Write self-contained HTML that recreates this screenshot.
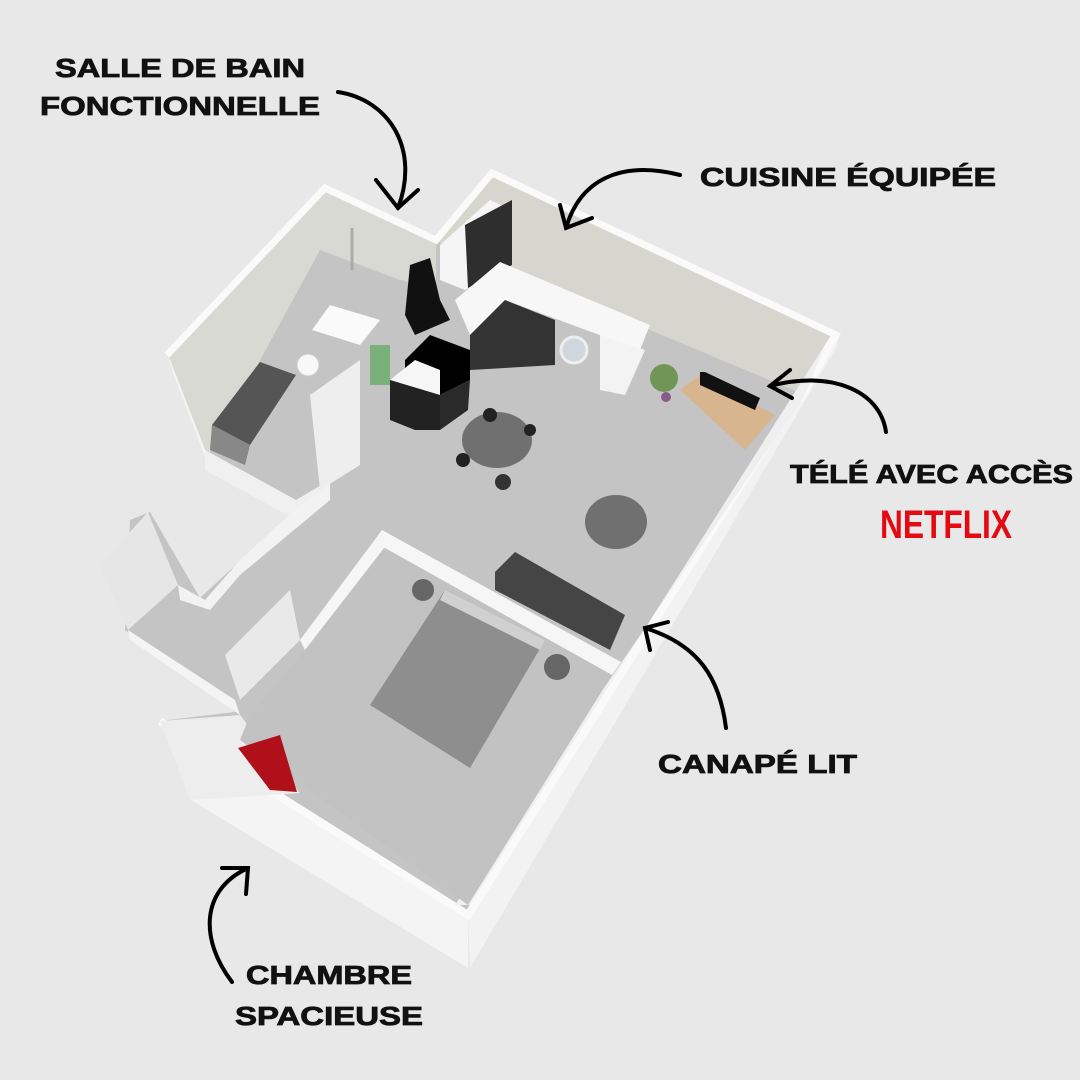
<!DOCTYPE html>
<html><head><meta charset="utf-8"><style>
html,body{margin:0;padding:0;background:#e8e8e8;}
svg{display:block}
text{font-family:"Liberation Sans",Arial,sans-serif;font-weight:bold;}
</style></head><body>
<svg width="1080" height="1080" viewBox="0 0 1080 1080" xmlns="http://www.w3.org/2000/svg">
<rect width="1080" height="1080" fill="#e8e8e8"/>
<!-- exterior white faces -->
<polygon points="160,721 468,915 468,968 191,800 188,790" fill="#f4f4f4"/>
<polygon points="834,333 838,345 470,968 468,915" fill="#f2f2f2"/>
<!-- main floor -->
<polygon points="205,450 205,355 325,190 436,240 492,173 834,333 468,915 160,721 235,712 125,630 130,520 150,512 200,598 300,505 296,500" fill="#c4c4c4"/>
<!-- bathroom back wall -->
<polygon points="167,352 325,190 436,240 436,290 400,280 320,250 210,452 205,450" fill="#d9d9d3"/>
<polygon points="167,352 205,450 210,470 172,370" fill="#f4f4f4"/>
<!-- kitchen back wall -->
<polygon points="436,240 492,173 834,333 805,395 650,330 500,262 450,250" fill="#d6d6cf"/>
<!-- wall top edges -->
<polyline points="167,355 325,188 436,240 492,173 836,335 800,400" fill="none" stroke="#fafafa" stroke-width="7"/>
<polyline points="836,335 468,915 160,721" fill="none" stroke="#fafafa" stroke-width="8"/>
<!-- right wall inner face -->
<polygon points="805,395 825,345 470,905 455,905" fill="#efefef"/>
<!-- bathroom lower wall -->
<polygon points="205,450 296,500 330,480 330,500 296,520 205,470" fill="#f0f0f0"/>
<polygon points="310,395 360,360 360,465 320,490" fill="#eeeeee"/>
<!-- corridor walls -->
<polygon points="100,565 148,512 178,585 128,630" fill="#e6e6e6"/>
<polygon points="178,585 205,600 240,560 300,505 330,485 330,500 240,575 210,610 180,600" fill="#f2f2f2"/>
<polygon points="128,630 235,700 240,715 130,640" fill="#f4f4f4"/>
<polygon points="225,655 290,590 300,640 240,700" fill="#e9e9e9"/>
<!-- bedroom walls -->
<polygon points="382,530 621,662 612,675 384,548 305,650 300,640" fill="#f6f6f6"/>
<polygon points="160,721 240,715 300,793 190,800" fill="#ededed"/>
<!-- bedroom floor -->
<polygon points="385,548 612,675 468,905 240,740 250,715 305,650" fill="#c2c2c2"/>
<!-- kitchen upper cabinet -->
<polygon points="440,245 490,200 512,210 512,265 465,290 440,280" fill="#f5f5f5"/>
<polygon points="465,225 512,200 512,265 468,288" fill="#2e2e2e"/>
<!-- counter L -->
<polygon points="455,300 500,262 650,325 640,350 505,300 470,335" fill="#f7f7f7"/>
<polygon points="470,335 505,300 555,320 555,365 470,370" fill="#333"/>
<polygon points="600,335 645,350 625,395 600,390" fill="#f3f3f3"/>
<circle cx="574" cy="350" r="13" fill="#cfd6dd" stroke="#eee" stroke-width="3"/>
<!-- hood & stove -->
<polygon points="410,265 430,258 440,300 450,320 415,335 405,315" fill="#111"/>
<polygon points="405,360 430,335 470,350 470,380 440,395 405,375" fill="#000"/>
<polygon points="390,380 415,360 440,370 440,395" fill="#f6f6f6"/>
<polygon points="390,380 440,395 440,430 415,430 390,420" fill="#222"/>
<polygon points="440,395 470,380 468,410 440,430" fill="#2a2a2a"/>
<!-- bathroom fixtures -->
<polygon points="212,425 260,362 296,375 250,445" fill="#555"/>
<polygon points="212,425 250,445 245,465 210,450" fill="#888"/>
<polygon points="312,330 330,305 380,320 360,345" fill="#fafafa"/>
<circle cx="308" cy="365" r="11" fill="#f8f8f8" stroke="#ccc"/>
<rect x="370" y="345" width="20" height="40" fill="#7ab07a"/>
<line x1="352" y1="228" x2="352" y2="270" stroke="#aaa" stroke-width="3"/>
<!-- dining -->
<ellipse cx="497" cy="440" rx="35" ry="28" fill="#707070"/>
<circle cx="490" cy="415" r="7" fill="#222"/><circle cx="530" cy="430" r="6" fill="#222"/>
<circle cx="463" cy="460" r="7" fill="#222"/><circle cx="503" cy="482" r="8" fill="#333"/>
<ellipse cx="616" cy="522" rx="31" ry="27" fill="#707070"/>
<!-- tv unit -->
<polygon points="680,390 700,375 775,415 745,450" fill="#d7b58f"/>
<polygon points="700,372 705,372 760,398 755,410 700,385" fill="#111"/>
<circle cx="664" cy="378" r="14" fill="#5a8b3a" opacity="0.8"/>
<circle cx="666" cy="397" r="5" fill="#8a5a8a"/>
<!-- sofa -->
<polygon points="495,572 515,552 625,615 610,650 495,590" fill="#454545"/>
<!-- bed -->
<polygon points="445,590 545,640 470,768 370,705" fill="#8e8e8e"/>
<polygon points="445,590 545,640 540,650 440,600" fill="#d0d0d0"/>
<circle cx="423" cy="590" r="11" fill="#666"/><circle cx="557" cy="667" r="13" fill="#666"/>
<!-- red chair -->
<polygon points="238,748 280,735 297,792 270,790" fill="#b0101a"/>
<!-- arrows -->
<g fill="none" stroke="#000" stroke-width="4" stroke-linecap="round">
<path d="M338,92 C390,100 420,150 398,208"/><path d="M376,180 L398,208 L418,190"/>
<path d="M680,175 C620,160 580,180 566,228"/><path d="M560,205 L566,228 L592,218"/>
<path d="M886,432 C880,390 830,370 770,386"/><path d="M790,370 L770,386 L792,398"/>
<path d="M726,728 C720,680 700,645 645,628"/><path d="M650,650 L645,628 L668,622"/>
<path d="M232,982 C200,940 200,890 248,868"/><path d="M222,868 L248,868 L246,894"/>
</g>
<!-- labels -->
<g font-size="26" fill="#111" stroke="#111" stroke-width="0.8" lengthAdjust="spacingAndGlyphs">
<text x="55" y="77" textLength="250" lengthAdjust="spacingAndGlyphs">SALLE DE BAIN</text>
<text x="40" y="115" textLength="280" lengthAdjust="spacingAndGlyphs">FONCTIONNELLE</text>
<text x="700" y="186" textLength="296" lengthAdjust="spacingAndGlyphs">CUISINE ÉQUIPÉE</text>
<text x="790" y="483" textLength="283" lengthAdjust="spacingAndGlyphs">TÉLÉ AVEC ACCÈS</text>
<text x="658" y="773" textLength="199" lengthAdjust="spacingAndGlyphs">CANAPÉ LIT</text>
<text x="246" y="984" textLength="166" lengthAdjust="spacingAndGlyphs">CHAMBRE</text>
<text x="235" y="1025" textLength="188" lengthAdjust="spacingAndGlyphs">SPACIEUSE</text>
</g>
<text x="880" y="538" textLength="132" lengthAdjust="spacingAndGlyphs" font-size="40" fill="#e50914">NETFLIX</text>
</svg>
</body></html>
